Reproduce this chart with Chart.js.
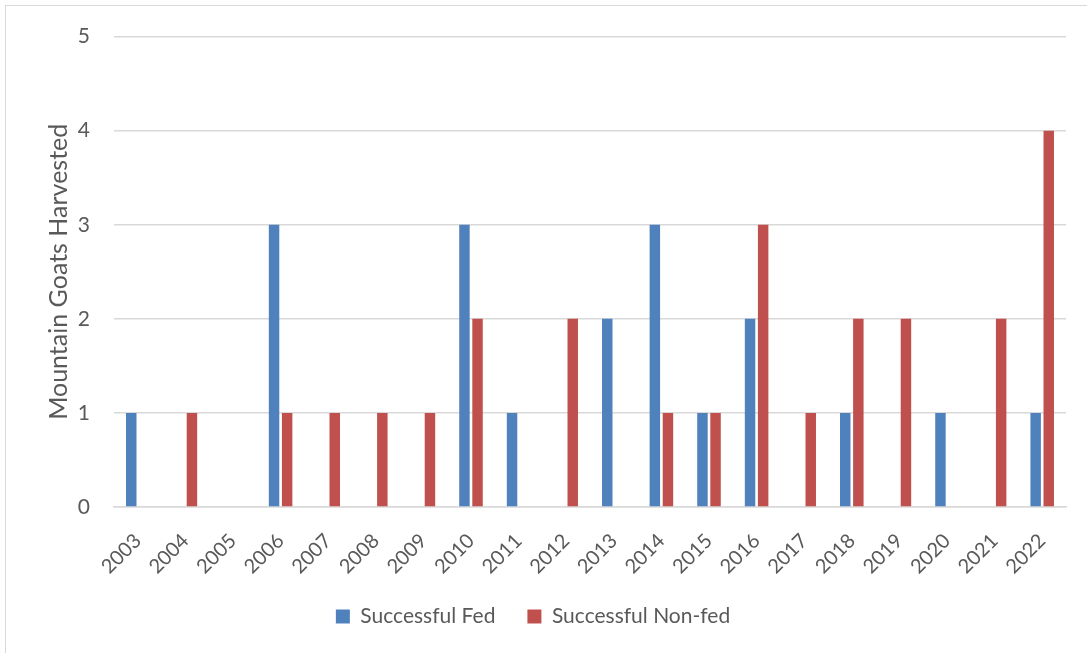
<!DOCTYPE html>
<html><head><meta charset="utf-8">
<script src="https://cdn.jsdelivr.net/npm/chart.js@4"></script>
<style>
html,body{margin:0;padding:0;background:#fff;}
#wrap{position:relative;width:1087px;height:653px;overflow:hidden;}
#frame{position:absolute;left:5px;top:5px;width:1100px;height:700px;border:1.5px solid #d9d9d9;box-sizing:border-box;}
canvas{position:absolute;left:0;top:0;}
</style></head>
<body><div id="wrap"><div id="frame"></div><canvas id="c" width="1087" height="653"></canvas></div>
<script>
const years = ['2003','2004','2005','2006','2007','2008','2009','2010','2011','2012','2013','2014','2015','2016','2017','2018','2019','2020','2021','2022'];
const fed    = [1,0,0,3,0,0,0,3,1,0,2,3,1,2,0,1,0,1,0,1];
const nonFed = [0,1,0,1,1,1,1,2,0,2,0,1,1,3,1,2,2,0,2,4];
const yTicks = [0,1,2,3,4,5];
const seriesNames = ['Successful Fed','Successful Non-fed'];
const textColor = '#595959';
const fontFam = 'Lato, "Open Sans", sans-serif';

new Chart(document.getElementById('c'), {
  type: 'bar',
  data: {
    labels: years,
    datasets: [
      {label: seriesNames[0], data: fed, backgroundColor: '#4F81BD', borderWidth: 0, categoryPercentage: 0.55, barPercentage: 0.8},
      {label: seriesNames[1], data: nonFed, backgroundColor: '#C0504D', borderWidth: 0, categoryPercentage: 0.55, barPercentage: 0.8}
    ]
  },
  options: {
    responsive: false,
    animation: false,
    layout: {padding: {left: 0, right: 21, top: 35, bottom: 16}},
    plugins: {
      legend: {
        position: 'bottom',
        labels: {color: textColor, font: {family: fontFam, size: 21}, boxWidth: 14, boxHeight: 14, padding: 32}
      },
      tooltip: {enabled: false}
    },
    scales: {
      x: {
        grid: {display: false, drawTicks: false},
        border: {display: true, color: '#d9d9d9', width: 1.5},
        ticks: {color: textColor, font: {family: fontFam, size: 20}, maxRotation: 45, minRotation: 45, padding: 22},
        afterFit: (s) => { s.height = 67; }
      },
      y: {
        min: 0, max: 5,
        afterBuildTicks: (s) => { s.ticks = yTicks.map(v => ({value: v})); },
        grid: {color: '#d9d9d9', lineWidth: 1.5, drawTicks: false},
        border: {display: false},
        ticks: {color: textColor, font: {family: fontFam, size: 21}, padding: 24},
        title: {display: true, text: 'Mountain Goats Harvested', color: textColor, font: {family: fontFam, size: 25}, padding: {top: 44, bottom: 44}},
        afterFit: (s) => { s.width = 114; }
      }
    }
  }
});
</script></body></html>
